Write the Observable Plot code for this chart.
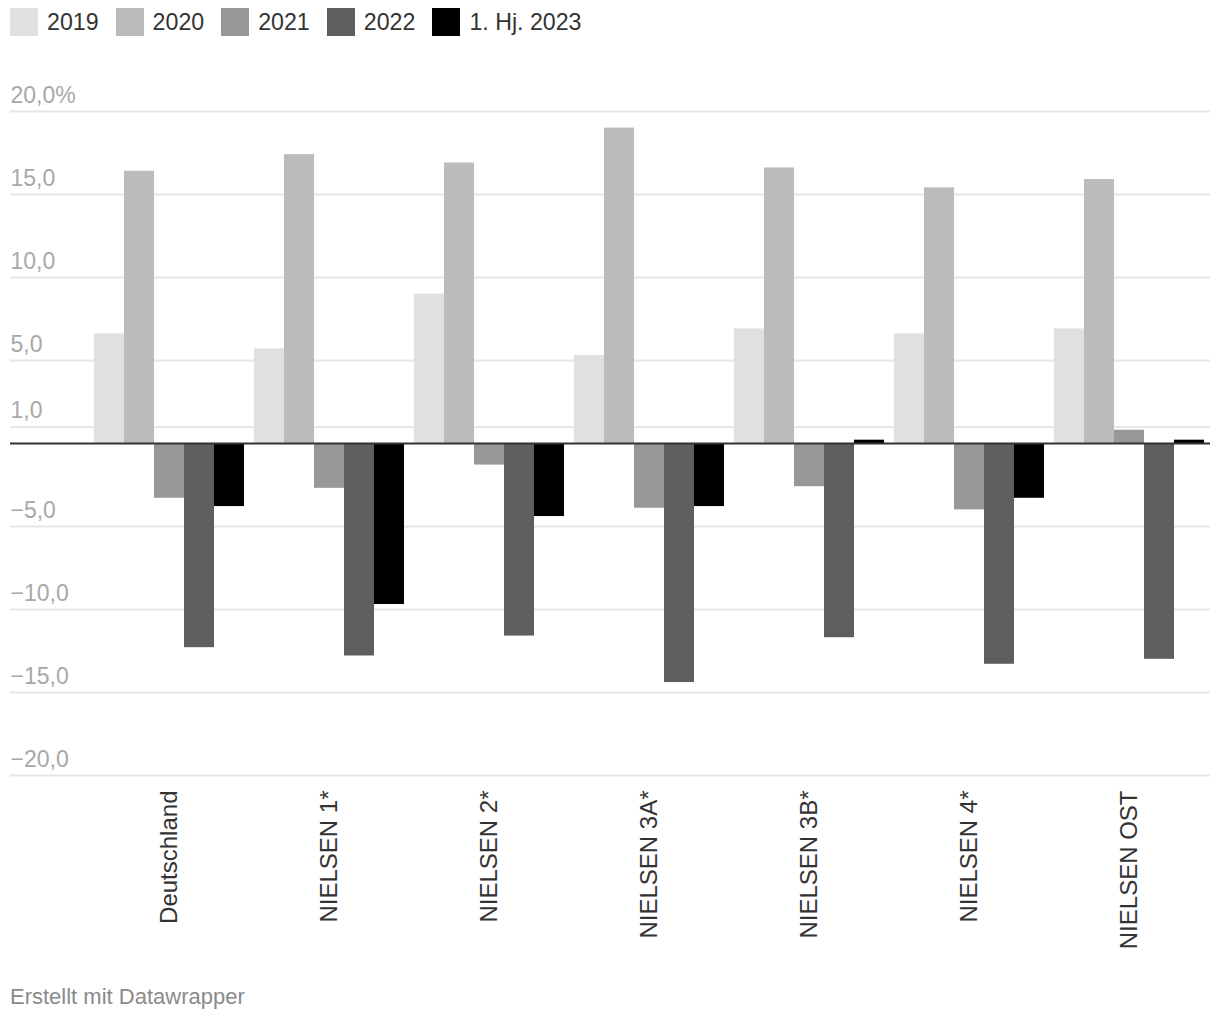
<!DOCTYPE html>
<html>
<head>
<meta charset="utf-8">
<script src="https://cdn.jsdelivr.net/npm/d3@7"></script>
<script src="https://cdn.jsdelivr.net/npm/@observablehq/plot@0.6"></script>
<style>
  html, body { margin: 0; padding: 0; background: #fff; }
  body { width: 1220px; height: 1020px; position: relative; font-family: "Liberation Sans", Arial, Helvetica, sans-serif; }
  #legend { position: absolute; left: 10px; top: 8px; display: flex; align-items: center; font-size: 23.2px; color: #333; }
  .item { display: flex; align-items: center; margin-right: 17px; }
  .sw { width: 28px; height: 28px; margin-right: 9px; }
  #chart { position: absolute; left: 0; top: 50px; }
  #footer { position: absolute; left: 10px; top: 984px; font-size: 22px; color: #8a8a8a; }
</style>
</head>
<body>
<div id="legend"></div>
<div id="chart"></div>
<div id="footer">Erstellt mit Datawrapper</div>
<script>
const categories = ["Deutschland", "NIELSEN 1*", "NIELSEN 2*", "NIELSEN 3A*", "NIELSEN 3B*", "NIELSEN 4*", "NIELSEN OST"];
const seriesNames = ["2019", "2020", "2021", "2022", "1. Hj. 2023"];
const seriesColors = ["#e0e0e0", "#bbbbbb", "#989898", "#5e5e5e", "#000000"];
const v2019 = [6.6, 5.7, 9.0, 5.3, 6.9, 6.6, 6.9];
const v2020 = [16.4, 17.4, 16.9, 19.0, 16.6, 15.4, 15.9];
const v2021 = [-3.3, -2.7, -1.3, -3.9, -2.6, -4.0, 0.8];
const v2022 = [-12.3, -12.8, -11.6, -14.4, -11.7, -13.3, -13.0];
const v2023 = [-3.8, -9.7, -4.4, -3.8, 0.2, -3.3, 0.2];
const yTicks = [20, 15, 10, 5, 1, -5, -10, -15, -20];

const seriesValues = [v2019, v2020, v2021, v2022, v2023];
const rows = [];
seriesNames.forEach((s, i) => categories.forEach((c, j) => rows.push({series: s, si: i, category: c, value: seriesValues[i][j]})));

// legend
const legend = document.getElementById("legend");
seriesNames.forEach((s, i) => {
  const it = document.createElement("div");
  it.className = "item";
  it.innerHTML = `<span class="sw" style="background:${seriesColors[i]}"></span><span>${s}</span>`;
  legend.appendChild(it);
});

const fmt = d => (d < 0 ? "\u2212" : "") + Math.abs(d).toFixed(1).replace(".", ",") + (d === 20 ? "%" : "");
const n = seriesNames.length;
const bw = 150 / n;

const chart = Plot.plot({
  width: 1220,
  height: 910,
  marginLeft: 10,
  marginRight: 10,
  marginTop: 61,
  marginBottom: 185,
  style: {fontFamily: "'Liberation Sans', Arial, Helvetica, sans-serif", background: "#fff"},
  x: {type: "band", domain: categories, paddingInner: 0.0625, paddingOuter: 0.28125, align: 0.9333, label: null},
  y: {domain: [-20, 20], axis: null},
  marks: [
    Plot.ruleY(yTicks, {stroke: "#e6e6e6", strokeWidth: 2}),
    Plot.text(yTicks, {y: d => d, text: fmt, frameAnchor: "left", textAnchor: "start", dy: -16, fontSize: 23, fill: "#a8a8a8"}),
    ...seriesNames.map((s, i) => Plot.barY(rows.filter(r => r.si === i), {
      x: "category", y: "value", fill: seriesColors[i],
      insetLeft: i * bw, insetRight: (n - 1 - i) * bw
    })),
    Plot.ruleY([0], {stroke: "#333", strokeWidth: 2}),
    Plot.axisX({tickRotate: -90, tickSize: 0, tickPadding: 15, fontSize: 24, color: "#333", label: null})
  ]
});
document.getElementById("chart").appendChild(chart);
</script>
</body>
</html>
